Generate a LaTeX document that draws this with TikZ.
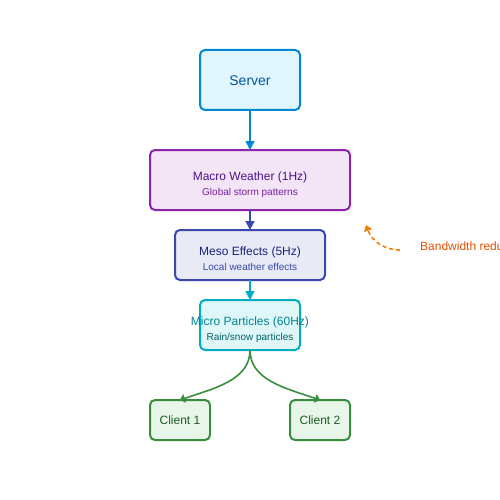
\documentclass[tikz,border=0pt]{standalone}
\usepackage{fontspec}
\newfontfamily\lsans{Liberation Sans}
\usetikzlibrary{arrows.meta}
\definecolor{srvS}{HTML}{0288D1}\definecolor{srvF}{HTML}{E1F5FE}\definecolor{srvT}{HTML}{01579B}
\definecolor{macS}{HTML}{8E24AA}\definecolor{macF}{HTML}{F3E5F5}\definecolor{macT}{HTML}{4A148C}\definecolor{macU}{HTML}{7B1FA2}
\definecolor{mesS}{HTML}{3949AB}\definecolor{mesF}{HTML}{E8EAF6}\definecolor{mesT}{HTML}{1A237E}\definecolor{mesU}{HTML}{3949AB}
\definecolor{micS}{HTML}{00ACC1}\definecolor{micF}{HTML}{E0F7FA}\definecolor{micT}{HTML}{00838F}\definecolor{micU}{HTML}{006064}
\definecolor{cliS}{HTML}{388E3C}\definecolor{cliF}{HTML}{E8F5E9}\definecolor{cliT}{HTML}{1B5E20}
\definecolor{orL}{HTML}{F57C00}\definecolor{orT}{HTML}{E65100}
\begin{document}
\begin{tikzpicture}[x=1pt,y=-1pt,
  box/.style={draw, line width=2pt, rounded corners=5pt, inner sep=0pt, outer sep=0pt},
  ttl/.style={anchor=base, inner sep=0pt, font=\lsans\fontsize{12}{14}\selectfont},
  sub/.style={anchor=base, inner sep=0pt, font=\lsans\fontsize{10}{12}\selectfont},
  conn/.style={line width=1.6pt, -{Triangle[length=9pt,width=9pt]}}]
\useasboundingbox[fill=white] (0,0) rectangle (500,500);
% boxes
\node[box, draw=srvS, fill=srvF, minimum width=100pt, minimum height=60pt] (server) at (250,80) {};
\node[box, draw=macS, fill=macF, minimum width=200pt, minimum height=60pt] (macro) at (250,180) {};
\node[box, draw=mesS, fill=mesF, minimum width=150pt, minimum height=50pt] (meso) at (250,255) {};
\node[box, draw=micS, fill=micF, minimum width=100pt, minimum height=50pt] (micro) at (250,325) {};
\node[box, draw=cliS, fill=cliF, minimum width=60pt, minimum height=40pt] (c1) at (180,420) {};
\node[box, draw=cliS, fill=cliF, minimum width=60pt, minimum height=40pt] (c2) at (320,420) {};
% texts
\node[anchor=base, inner sep=0pt, font=\lsans\fontsize{14}{16}\selectfont, text=srvT] (servert) at (250,85.5) {Server};
\node[ttl, text=macT] (macrot) at (250,180) {Macro Weather (1Hz)};
\node[sub, text=macU] (macros) at (250,195) {Global storm patterns};
\node[ttl, text=mesT] (mesot) at (250,255) {Meso Effects (5Hz)};
\node[sub, text=mesU] (mesos) at (250,270) {Local weather effects};
\node[ttl, text=micT] (microt) at (250,325) {Micro Particles (60Hz)};
\node[sub, text=micU] (micros) at (250,340) {Rain/snow particles};
\node[ttl, text=cliT] (c1t) at (180,424.5) {Client 1};
\node[ttl, text=cliT] (c2t) at (320,424.5) {Client 2};
% connectors
\draw[conn, draw=srvS] (server.south) -- (macro.north);
\draw[conn, draw=mesS] (macro.south) -- (meso.north);
\draw[conn, draw=micS] (meso.south) -- (micro.north);
\draw[conn, draw=cliS, -{Triangle[length=5pt,width=9pt]}] (micro.south) .. controls +(0,30) and +(35,-12) .. (c1.north);
\draw[conn, draw=cliS, -{Triangle[length=5pt,width=9pt]}] (micro.south) .. controls +(0,30) and +(-35,-12) .. (c2.north);
% bandwidth note
\coordinate (bs) at (400,250);
\coordinate (be) at (366,225);
\draw[line width=1.6pt, draw=orL, dash pattern=on 4pt off 3pt, -{Triangle[length=6pt,width=8pt]}] (bs) .. controls (384,250) and (372,241) .. (be);
\node[anchor=base west, inner sep=0pt, font=\lsans\fontsize{12}{14}\selectfont, text=orT] (bw) at (420,250) {Bandwidth reduction};
\end{tikzpicture}
\end{document}
